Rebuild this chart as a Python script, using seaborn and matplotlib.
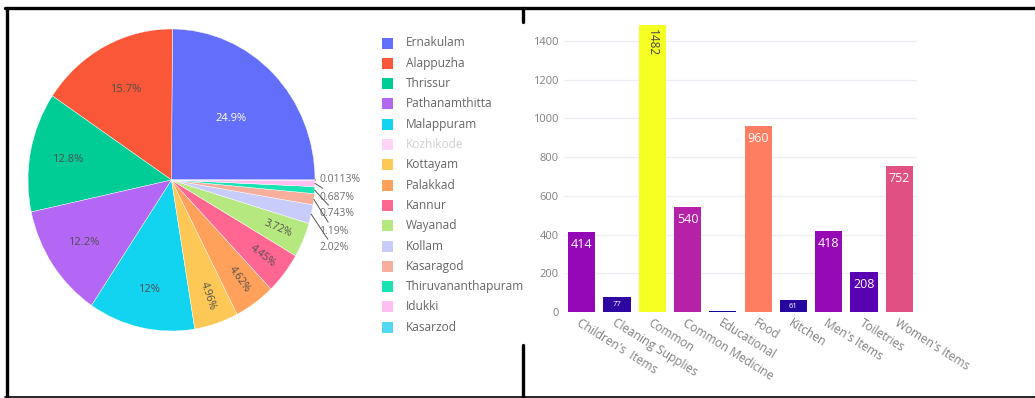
import colorsys
import numpy as np
import pandas as pd
import matplotlib
matplotlib.use("Agg")
import matplotlib.pyplot as plt
from matplotlib.lines import Line2D
from matplotlib.patches import Rectangle
import seaborn as sns

# ---------------- data ----------------
districts = ["Ernakulam", "Alappuzha", "Thrissur", "Pathanamthitta", "Malappuram",
             "Kottayam", "Palakkad", "Kannur", "Wayanad", "Kollam", "Kasaragod",
             "Thiruvananthapuram", "Idukki", "Kasarzod"]
district_share = [24.9, 15.7, 12.8, 12.2, 12.0, 4.96, 4.62, 4.45, 3.72, 2.02, 1.19,
                  0.743, 0.687, 0.0113]
district_colors = ["#636EFA", "#FA5638", "#00CC96", "#B466F5", "#12D3F0",
                   "#FEC857", "#FFA15A", "#FF6692", "#B6E880", "#C8CCFA", "#F8AE9C",
                   "#19E3B3", "#FFBDF2", "#52D8F3"]
legend_order = ["Ernakulam", "Alappuzha", "Thrissur", "Pathanamthitta", "Malappuram",
                "Kozhikode", "Kottayam", "Palakkad", "Kannur", "Wayanad", "Kollam",
                "Kasaragod", "Thiruvananthapuram", "Idukki", "Kasarzod"]
hidden_district = "Kozhikode"
hidden_color = "#FDD3F6"

categories = ["Children's  Items", "Cleaning Supplies", "Common", "Common Medicine",
              "Educational", "Food", "Kitchen", "Men's Items", "Toiletries", "Women's Items"]
counts = [414, 77, 1482, 540, 6, 960, 61, 418, 208, 752]

# ---------------- style ----------------
sns.set_theme(style="white")
plt.rcParams["font.family"] = ["Open Sans", "DejaVu Sans"]

W, H = 1035, 398
fig = plt.figure(figsize=(W / 100, H / 100), dpi=100)

def fx(px):
    return px / W

def fy(py):
    return 1 - py / H

# ---------------- pie ----------------
cx, cy, rx, ry = 171.5, 180.0, 143.5, 151.0
axp = fig.add_axes([fx(cx - rx), fy(cy + ry), 2 * rx / W, 2 * ry / H])
wedges, _ = axp.pie(district_share, colors=district_colors, startangle=0,
                    counterclock=True, radius=1.0,
                    wedgeprops=dict(linewidth=0.3, edgecolor="white"))
axp.set_aspect("auto")
axp.set_xlim(-1, 1)
axp.set_ylim(-1, 1)
axp.axis("off")

total = sum(district_share)
cum = 0.0
outside = []
for i, (name, v) in enumerate(zip(districts, district_share)):
    a0 = cum / total * 360
    cum += v
    a1 = cum / total * 360
    mid = np.deg2rad((a0 + a1) / 2)
    label = f"{v:.3g}%"
    pct = v / total * 100
    if pct >= 10:
        r = {0: 0.58, 1: 0.68}.get(i, 0.74)
        axp.text(r * np.cos(mid), r * np.sin(mid), label, ha="center", va="center",
                 fontsize=8, color="white" if i == 0 else "#505050")
    elif pct >= 3:
        r = 0.81
        rot = np.rad2deg(mid)
        if rot > 180:
            rot -= 360
        axp.text(r * np.cos(mid), r * np.sin(mid), label, ha="center", va="center",
                 fontsize=7.5, color="#505050", rotation=rot, rotation_mode="anchor")
    else:
        outside.append((mid, label))

# outside labels: stacked list at the right, smallest on top
outside = outside[::-1]
for k, (mid, label) in enumerate(outside):
    ly_px = 180 + k * 17
    lx = (319 - cx) / rx
    ly = (cy - ly_px) / ry
    ex, ey = np.cos(mid), np.sin(mid)
    axp.annotate(label, xy=(ex, ey), xytext=(lx, ly), ha="left", va="center",
                 fontsize=7.5, color="#707070", annotation_clip=False,
                 arrowprops=dict(arrowstyle="-", color="#555555", lw=0.7,
                                 shrinkA=0, shrinkB=0))

# legend (manual, plotly style)
color_map = dict(zip(districts, district_colors))
for i, name in enumerate(legend_order):
    yc = 43 + i * 20.3
    hidden = name == hidden_district
    col = hidden_color if hidden else color_map[name]
    fig.add_artist(Rectangle((fx(382), fy(yc + 5.5)), 11 / W, 11 / H,
                             transform=fig.transFigure, facecolor=col, edgecolor="none"))
    fig.text(fx(406), fy(yc), name, ha="left", va="center", fontsize=8.6,
             color="#d0d0d0" if hidden else "#666666")

# ---------------- bars ----------------
axb = fig.add_axes([fx(564), fy(312), (917 - 564) / W, (312 - 23) / H])
norm = plt.Normalize(min(counts), max(counts))
cmap = plt.get_cmap("plasma")

def brighten(c, f=1.1):
    h, s, v = colorsys.rgb_to_hsv(*c[:3])
    return colorsys.hsv_to_rgb(h, s, min(1.0, v * f))

bar_colors = [brighten(cmap(norm(v))) for v in counts]
df = pd.DataFrame({"category": categories, "count": counts})
sns.barplot(data=df, x="category", y="count", hue="category", palette=bar_colors,
            legend=False, ax=axb, width=0.77, saturation=1, linewidth=0)
axb.set_ylim(0, 1492)
axb.set_xlim(-0.5, len(categories) - 0.5)
axb.set_yticks(range(0, 1401, 200))
axb.grid(axis="y", color="#ebeef5", linewidth=0.9)
axb.set_axisbelow(True)
for s in axb.spines.values():
    s.set_visible(False)
axb.set_xlabel("")
axb.set_ylabel("")
axb.tick_params(axis="y", labelsize=8, colors="#808080", length=0, pad=4)
axb.tick_params(axis="x", labelsize=8.6, colors="#808080", length=0, pad=3)
plt.setp(axb.get_xticklabels(), rotation=-32, ha="left", rotation_mode="anchor")

for i, v in enumerate(counts):
    if v >= 1000:
        axb.annotate(str(v), xy=(i, v), xytext=(0, -3), textcoords="offset points",
                     ha="center", va="top", rotation=270, fontsize=8.5, color="#444444")
    elif v >= 150:
        axb.annotate(str(v), xy=(i, v), xytext=(0, -9), textcoords="offset points",
                     ha="center", va="center", fontsize=9, color="white")
    elif v >= 30:
        axb.text(i, v / 2, str(v), ha="center", va="center", fontsize=5.5, color="white")

# ---------------- frame lines ----------------
frame = dict(color="black", transform=fig.transFigure)
fig.add_artist(Line2D([fx(5), fx(1035)], [fy(8), fy(8)], lw=2.4, **frame))
fig.add_artist(Line2D([fx(6.5), fx(6.5)], [fy(8), fy(397)], lw=2.4, **frame))
fig.add_artist(Line2D([fx(5), fx(1035)], [fy(396.5), fy(396.5)], lw=1.2, **frame))
fig.add_artist(Line2D([fx(523), fx(523)], [fy(8), fy(22)], lw=2.4, **frame))
fig.add_artist(Line2D([fx(523), fx(523)], [fy(345), fy(397)], lw=2.4, **frame))

fig.savefig("out.png", dpi=100, facecolor="white")
